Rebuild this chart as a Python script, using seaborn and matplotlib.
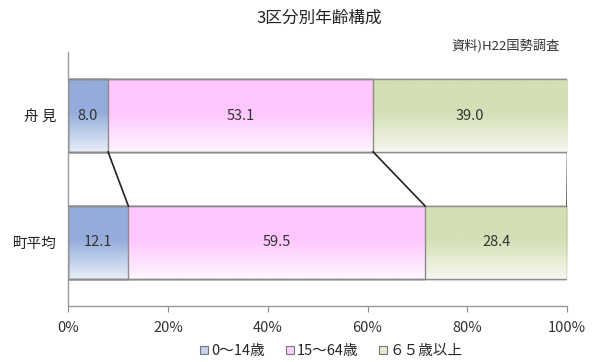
import numpy as np
import pandas as pd
import matplotlib
matplotlib.use("Agg")
import matplotlib.pyplot as plt
from matplotlib.colors import LinearSegmentedColormap
import seaborn as sns

# --- dados ---
regioes = ["舟 見", "町平均"]
faixas = ["0～14歳", "15～64歳", "６５歳以上"]
jovens = [8.0, 12.1]
adultos = [53.1, 59.5]
idosos = [39.0, 28.4]
titulo = "3区分別年齢構成"
fonte = "資料)H22国勢調査"

# cor de cima / cor de baixo do degradê de cada faixa
cores = [("#94acdb", "#e6edf7"), ("#ffc6ff", "#fff6ff"), ("#d4dfb6", "#f6f8ef")]
cores_leg = ["#c5d3ee", "#ffd0ff", "#e4ebd2"]

sns.set_style("white")
plt.rcParams["font.family"] = ["Noto Sans CJK JP", "DejaVu Sans"]

df = pd.DataFrame({"regiao": regioes, "a": jovens, "b": adultos, "c": idosos})
df["cum_a"] = df["a"]
df["cum_b"] = df["a"] + df["b"]
df["cum_c"] = df["a"] + df["b"] + df["c"]

fig = plt.figure(figsize=(5.92, 3.62), dpi=100)
ax = fig.add_axes([0.115, 0.155, 0.843, 0.701])

largura = 0.57
grad = np.linspace(0, 1, 64).reshape(-1, 1)
grad = np.clip((grad - 0.45) / 0.55, 0, 1)  # sólido em cima, clareia embaixo
for col, (c_top, c_bot) in zip(["cum_c", "cum_b", "cum_a"], cores[::-1]):
    n_antes = len(ax.patches)
    sns.barplot(data=df, x=col, y="regiao", orient="h", color=c_top,
                width=largura, edgecolor="#8c8c8c", linewidth=1.0,
                saturation=1, ax=ax)
    cmap = LinearSegmentedColormap.from_list("g", [c_top, c_bot])
    for p in ax.patches[n_antes:]:
        x0, y0 = p.get_x(), p.get_y()
        w, h = p.get_width(), p.get_height()
        im = ax.imshow(grad, cmap=cmap, vmin=0, vmax=1, aspect="auto",
                       extent=[x0, x0 + w, y0 + h, y0], origin="upper",
                       interpolation="bilinear", zorder=p.get_zorder() + 0.01)
        im.set_clip_path(p)
        ax.add_patch(plt.Rectangle((x0, y0), w, h, fill=False, edgecolor="#8c8c8c",
                                   lw=1.0, zorder=p.get_zorder() + 0.02))

# linhas de ligação entre as barras
for col in ["cum_a", "cum_b", "cum_c"]:
    ax.plot([df[col][0], df[col][1]], [largura / 2, 1 - largura / 2],
            color="#222222", lw=1.2, zorder=5)

# rótulos dos segmentos
for i in range(len(df)):
    inicio = 0
    for v in [df["a"][i], df["b"][i], df["c"][i]]:
        ax.text(inicio + v / 2, i, f"{v:.1f}", ha="center", va="center",
                fontsize=10.5, color="#333333", zorder=6)
        inicio += v

ax.set_xlim(0, 100)
ax.set_ylim(1.5, -0.5)
ax.set_xticks(range(0, 101, 20))
ax.set_xticklabels([f"{t}%" for t in range(0, 101, 20)], fontsize=10.5, color="#333333")
ax.set_yticks([0, 1])
ax.set_yticklabels(regioes, fontsize=10.5, color="#222222")
ax.set_xlabel("")
ax.set_ylabel("")
ax.tick_params(axis="x", direction="out", length=4, color="#888888", bottom=True, pad=7)
ax.tick_params(axis="y", length=0, pad=8)
for s in ["top", "right"]:
    ax.spines[s].set_visible(False)
for s in ["left", "bottom"]:
    ax.spines[s].set_color("#999999")
    ax.spines[s].set_linewidth(1.0)

fig.text(0.54, 0.95, titulo, ha="center", va="center", fontsize=12, color="#222222")
ax.text(0.985, 1.0, fonte, transform=ax.transAxes, ha="right", va="bottom",
        fontsize=9.5, color="#333333")

handles = [plt.Rectangle((0, 0), 1, 1, facecolor=c, edgecolor="#777777", lw=0.8)
           for c in cores_leg]
fig.legend(handles, faixas, loc="center", bbox_to_anchor=(0.56, 0.03), ncol=3,
           frameon=False, fontsize=10.5, handlelength=0.55, handleheight=0.55,
           handletextpad=0.2, columnspacing=1.4)

fig.savefig("out.png", dpi=100)
